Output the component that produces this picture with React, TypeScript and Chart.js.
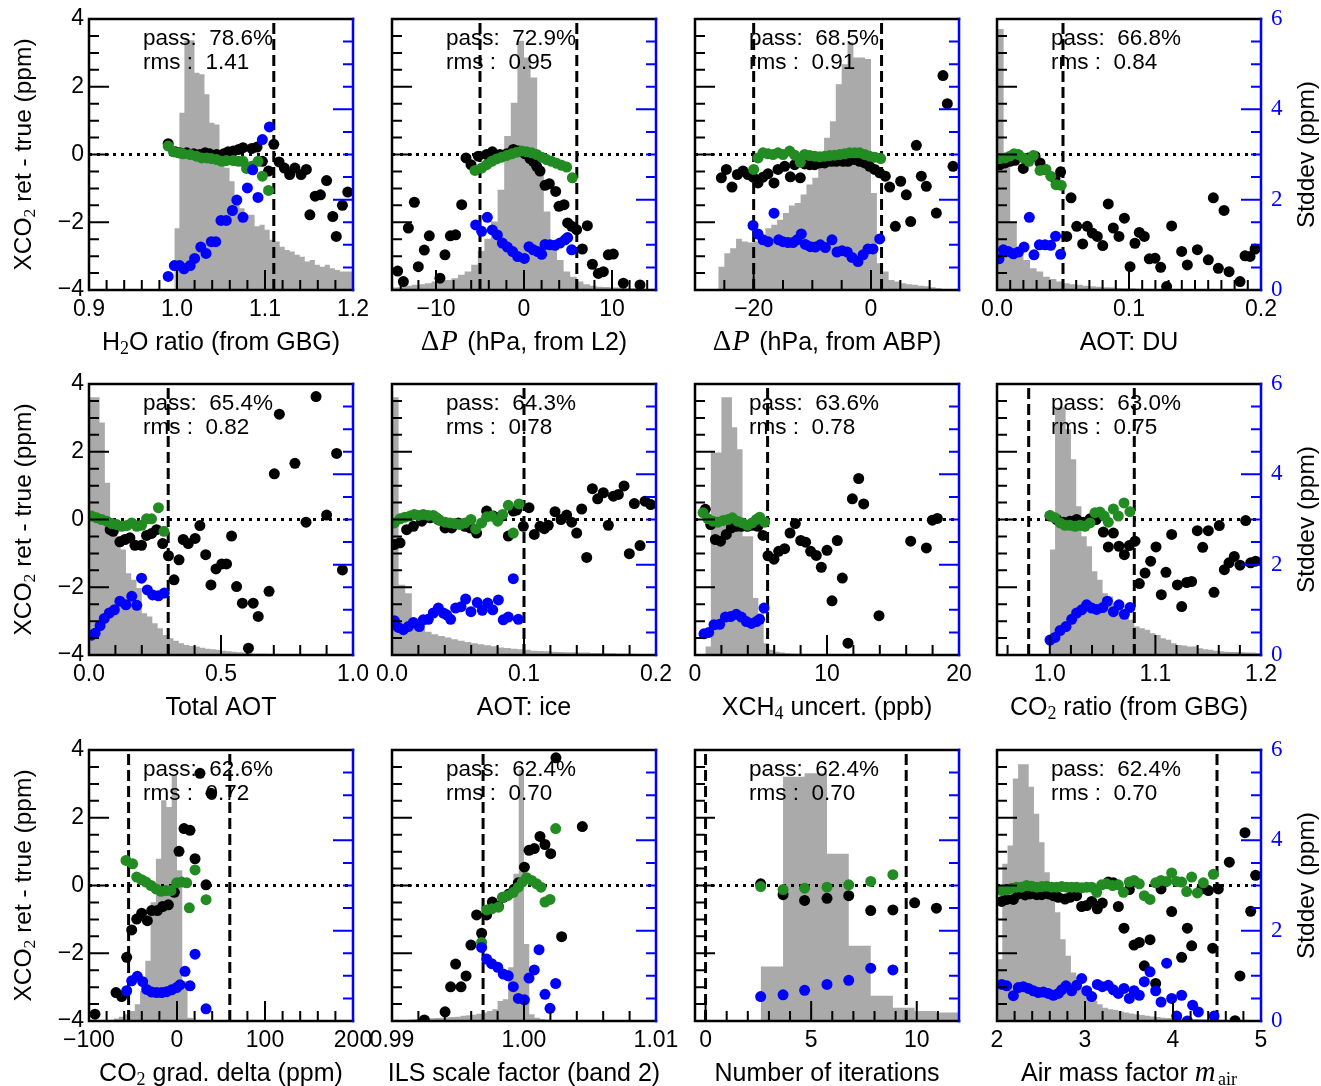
import React, { useEffect, useRef } from "react";
import { Chart, registerables } from "chart.js";
Chart.register(...registerables);

type Pt = [number, number];
type Seg = { t: string; sub?: boolean; it?: boolean; serif?: boolean };

// ---------------- data ----------------
const yLeftTicks = [-4, -2, 0, 2, 4];
const yRightTicks = [0, 2, 4, 6];

// Panel 1: H2O ratio
const p1XTicks = [0.9, 1.0, 1.1, 1.2];
const p1VLines = [1.11];
const p1Black: Pt[] = [[0.990,0.32],[0.998,0.08],[1.003,0.05],[1.011,0.05],[1.019,0.02],[1.026,0.0],[1.032,0.05],[1.037,0.02],[1.045,0.0],[1.053,0.02],[1.058,0.08],[1.064,0.10],[1.070,0.15],[1.075,0.20],[1.085,0.18],[1.091,0.22],[1.097,-0.20],[1.104,-0.49],[1.110,0.30],[1.116,-0.22],[1.122,-0.40],[1.128,-0.59],[1.134,-0.40],[1.141,-0.59],[1.147,-0.44],[1.151,-1.78],[1.157,-1.23],[1.163,-1.19],[1.170,-0.77],[1.177,-1.83],[1.181,-2.42],[1.188,-1.50],[1.194,-1.11]];
const p1Green: Pt[] = [[0.990,0.25],[0.996,0.08],[1.002,0.05],[1.007,0.02],[1.015,0.0],[1.022,-0.05],[1.028,-0.10],[1.034,-0.10],[1.039,-0.12],[1.045,-0.15],[1.051,-0.20],[1.056,-0.18],[1.064,-0.18],[1.070,-0.20],[1.075,-0.20],[1.079,-0.41],[1.085,-0.35],[1.092,-0.20],[1.097,-0.64],[1.104,-1.06]];
const p1Blue: Pt[] = [[0.990,0.30],[0.997,0.54],[1.003,0.54],[1.008,0.47],[1.015,0.54],[1.020,0.70],[1.027,0.95],[1.033,0.81],[1.039,1.07],[1.044,1.07],[1.050,1.54],[1.056,1.54],[1.063,1.76],[1.068,1.99],[1.075,1.61],[1.080,2.26],[1.086,2.66],[1.092,2.05],[1.097,3.33],[1.105,3.61]];
const p1HistStart = 0.997, p1HistWidth = 0.0057;
const p1Hist = [22.8,65.4,92.0,92.2,80.2,79.6,72.2,61.7,61.1,50.0,45.1,40.1,34.6,30.2,27.8,27.8,23.5,24.1,22.2,18.5,17.9,16.0,14.8,14.2,13.0,12.3,10.5,11.1,9.3,8.6,9.3,8.0,7.4,6.8,6.8,6.8];

// Panel 2: dP from L2
const p2XTicks = [-10, 0, 10];
const p2VLines = [-5, 6];
const p2Black: Pt[] = [[-14.36,-3.44],[-13.71,-3.75],[-13.14,-2.17],[-12.46,-1.41],[-12.01,-3.31],[-11.33,-2.82],[-10.76,-2.40],[-9.55,-3.65],[-8.98,-2.96],[-8.37,-2.40],[-7.77,-2.37],[-7.08,-1.48],[-6.59,-0.10],[-6.02,-0.30],[-5.19,-0.05],[-4.24,0.0],[-3.60,0.08],[-2.73,0.0],[-1.97,0.02],[-1.21,0.15],[-0.64,0.10],[0.11,0.02],[0.68,-0.12],[1.06,-0.20],[1.44,-0.35],[1.82,-0.49],[2.39,-0.91],[2.88,-0.86],[3.60,-1.09],[3.98,-1.53],[4.55,-1.48],[4.96,-2.02],[5.42,-2.12],[5.98,-2.22],[6.63,-2.79],[7.20,-2.10],[7.77,-3.24],[8.45,-3.51],[9.02,-3.46],[9.58,-2.96],[10.15,-2.94],[11.29,-3.80],[13.18,-3.85]];
const p2Green: Pt[] = [[-5.57,-0.47],[-4.81,-0.40],[-4.24,-0.30],[-3.67,-0.20],[-3.11,-0.13],[-2.54,-0.08],[-1.97,-0.03],[-1.40,0.02],[-0.83,0.07],[-0.27,0.10],[0.30,0.08],[0.87,0.05],[1.44,0.0],[2.01,-0.08],[2.58,-0.15],[3.14,-0.20],[3.71,-0.26],[4.28,-0.32],[4.85,-0.37],[5.49,-0.69]];
const p2Blue: Pt[] = [[-5.49,1.44],[-4.81,1.30],[-4.17,1.61],[-3.60,1.33],[-3.03,1.22],[-2.46,1.04],[-1.89,0.95],[-1.29,0.85],[-0.72,0.74],[0.04,0.70],[0.57,0.96],[1.06,0.89],[1.55,0.85],[2.01,0.79],[2.39,1.01],[2.95,1.00],[3.52,0.99],[4.09,1.04],[4.66,1.11],[4.96,1.16],[5.42,0.89]];
const p2HistStart = -15, p2HistWidth = 0.75;
const p2Hist = [0.9,1.2,1.6,1.9,2.1,2.5,3.1,3.3,3.7,4.3,5.6,6.8,9.3,14.4,18.9,25.3,37.0,56.8,69.1,92.0,85.8,78.4,45.7,29.0,16.7,11.1,6.8,4.9,3.1,2.1,1.6,1.2,1.1,0.9,0.9,0.7,0.6,0.6,0.5,0.5];

// Panel 3: dP from ABP
const p3XTicks = [-20, 0];
const p3VLines = [-20, 1.8];
const p3Black: Pt[] = [[-25.51,-0.69],[-24.66,-0.44],[-23.69,-0.96],[-22.78,-0.59],[-21.82,-0.49],[-20.97,-0.59],[-20.11,-0.67],[-19.26,-0.84],[-18.41,-0.67],[-17.56,-0.57],[-16.53,-0.84],[-15.85,-0.44],[-14.72,-0.35],[-13.75,-0.66],[-13.01,-0.30],[-12.05,-0.69],[-11.31,-0.28],[-10.45,-0.30],[-9.60,-0.30],[-8.75,-0.25],[-7.90,-0.25],[-6.76,-0.20],[-5.91,-0.20],[-4.77,-0.20],[-3.92,-0.20],[-2.78,-0.15],[-1.93,-0.20],[-1.08,-0.25],[-0.23,-0.35],[0.63,-0.44],[1.48,-0.54],[2.44,-0.64],[3.18,-0.96],[4.15,-2.12],[5.06,-0.79],[6.02,-1.19],[6.76,-1.98],[7.73,0.27],[8.58,-0.64],[9.43,-0.94],[11.14,-1.73],[12.27,2.33],[13.01,1.50],[13.98,-0.35]];
const p3Green: Pt[] = [[-20.0,-0.44],[-19.26,-0.10],[-18.41,0.05],[-17.56,0.02],[-16.70,0.0],[-15.85,0.05],[-15.0,0.0],[-13.86,0.10],[-13.01,-0.02],[-12.05,-0.23],[-11.31,0.0],[-10.45,-0.03],[-9.60,-0.05],[-8.75,-0.07],[-7.90,-0.05],[-7.05,-0.03],[-6.19,-0.02],[-5.34,0.0],[-4.49,0.02],[-3.64,0.05],[-2.78,0.05],[-1.93,0.05],[-1.08,0.0],[-0.23,-0.05],[0.63,-0.08],[1.65,-0.12]];
const p3Blue: Pt[] = [[-20.11,1.43],[-19.26,1.24],[-18.41,1.11],[-17.56,1.07],[-16.53,1.70],[-15.74,1.11],[-15.0,1.07],[-14.15,1.05],[-13.30,1.05],[-12.61,1.11],[-11.88,1.24],[-11.19,1.01],[-10.34,0.96],[-9.49,0.95],[-8.64,1.00],[-7.78,0.94],[-6.65,1.11],[-5.80,0.84],[-4.94,0.87],[-4.03,0.84],[-3.24,0.72],[-2.22,0.63],[-1.36,0.78],[-0.51,0.91],[0.34,0.91],[1.48,1.13]];
const p3HistStart = -30, p3HistWidth = 1;
const p3Hist = [0,0,0,0,8.6,13.6,15.4,18.9,17.9,17.5,17.9,20.4,22.8,24.1,25.9,28.4,31.2,32.1,35.2,38.9,41.4,46.9,56.2,62.3,75.9,83.3,91.4,85.8,85.8,85.2,35.8,9.9,6.8,3.7,3.1,2.5,2.1,1.9,1.6,1.4,1.0,0.6,0.4,0.2,0.1];

// Panel 4: AOT DU
const p4XTicks = [0.0, 0.1, 0.2];
const p4VLines = [0.05];
const p4Black: Pt[] = [[0.0023,-0.30],[0.0061,-0.25],[0.0098,-0.20],[0.0136,-0.17],[0.0199,-0.41],[0.0237,-0.10],[0.0288,-0.05],[0.0326,-0.25],[0.0364,-0.44],[0.0439,-0.71],[0.0482,-0.51],[0.0528,-2.42],[0.0561,-1.28],[0.0604,-2.12],[0.0649,-2.64],[0.0684,-2.12],[0.0722,-2.32],[0.0760,-2.42],[0.0801,-2.69],[0.0843,-1.46],[0.0881,-2.17],[0.0924,-2.42],[0.0965,-1.88],[0.1008,-3.31],[0.1045,-2.62],[0.1078,-2.30],[0.1116,-2.42],[0.1154,-3.08],[0.1197,-3.06],[0.1240,-3.33],[0.1285,-3.90],[0.1323,-2.11],[0.1399,-2.86],[0.1442,-3.26],[0.1518,-2.81],[0.1601,-3.11],[0.1639,-1.28],[0.1677,-3.36],[0.1720,-1.65],[0.1758,-3.46],[0.1841,-3.75],[0.1879,-2.99],[0.1917,-3.01],[0.1955,-2.79]];
const p4Green: Pt[] = [[0.0023,-0.12],[0.0061,-0.10],[0.0098,-0.05],[0.0129,0.02],[0.0162,0.0],[0.0199,-0.10],[0.0242,-0.20],[0.0275,-0.03],[0.0326,-0.47],[0.0371,-0.44],[0.0407,-0.64],[0.0447,-0.89],[0.0487,-0.91]];
const p4Blue: Pt[] = [[0.0015,0.69],[0.0048,0.89],[0.0086,0.85],[0.0124,0.80],[0.0162,0.84],[0.0205,0.95],[0.0245,1.61],[0.0280,0.78],[0.0321,1.00],[0.0364,1.00],[0.0407,0.99],[0.0444,1.19],[0.0482,0.79]];
const p4HistStart = 0, p4HistWidth = 0.005;
const p4Hist = [96.3,45.7,24.7,15.4,11.1,8.0,6.8,4.9,4.1,3.1,2.5,2.1,1.9,1.6,1.4,1.2,1.0,0.9,0.7,0.6,0.6,0.5,0.5,0.5,0.4,0.4,0.4,0.4,0.2,0.2,0.2,0.2,0.2,0.1,0.1,0.1,0.1,0.1,0.1,0.1];

// Panel 5: Total AOT
const p5XTicks = [0.0, 0.5, 1.0];
const p5VLines = [0.3];
const p5Black: Pt[] = [[0.080,-0.30],[0.092,-0.35],[0.117,-0.66],[0.136,-0.59],[0.155,-0.54],[0.174,-0.76],[0.199,-0.76],[0.218,-0.47],[0.237,-0.41],[0.256,-0.30],[0.279,-0.71],[0.301,-1.07],[0.322,-1.78],[0.341,-1.19],[0.357,-0.59],[0.376,-0.71],[0.402,-0.56],[0.420,-0.18],[0.442,-1.04],[0.462,-1.93],[0.481,-1.46],[0.503,-1.31],[0.521,-1.31],[0.540,-0.49],[0.559,-1.98],[0.581,-2.47],[0.604,-3.80],[0.622,-2.47],[0.641,-2.86],[0.682,-2.12],[0.702,1.35],[0.721,3.11],[0.780,1.66],[0.822,-0.08],[0.860,3.63],[0.900,0.13],[0.938,1.95],[0.960,-1.49]];
const p5Green: Pt[] = [[0.010,0.10],[0.029,0.05],[0.048,0.0],[0.067,-0.05],[0.086,-0.12],[0.105,-0.15],[0.124,-0.20],[0.143,-0.18],[0.162,-0.10],[0.181,-0.20],[0.199,-0.17],[0.218,0.02],[0.237,0.02],[0.263,0.35],[0.284,-0.35]];
const p5Blue: Pt[] = [[0.010,0.44],[0.023,0.48],[0.042,0.65],[0.058,0.81],[0.077,0.93],[0.096,1.00],[0.117,1.19],[0.140,1.11],[0.162,1.30],[0.181,1.10],[0.199,1.70],[0.221,1.44],[0.241,1.33],[0.263,1.31],[0.285,1.37]];
const p5HistStart = 0, p5HistWidth = 0.02;
const p5Hist = [95.1,95.1,85.8,63.6,45.7,43.8,38.9,30.2,27.8,24.7,15.4,14.2,11.7,9.9,7.4,6.2,5.3,4.3,3.7,3.3,3.1,2.7,2.3,2.1,1.9,1.6,1.4,1.2,1.0,0.9,0.6,0.5,0.5,0.5,0.4,0.4,0.4,0.4,0.2,0.2,0.2,0.2,0.2,0.1,0.1,0.1,0.1,0.1,0.1,0.1];

// Panel 6: AOT ice
const p6XTicks = [0.0, 0.1, 0.2];
const p6VLines = [0.1];
const p6Black: Pt[] = [[0.0018,-0.74],[0.0061,-0.69],[0.0111,-0.30],[0.0162,-0.20],[0.0225,-0.05],[0.0288,0.05],[0.0351,0.0],[0.0402,-0.25],[0.0452,-0.25],[0.0503,-0.10],[0.0553,-0.20],[0.0591,-0.25],[0.0641,-0.40],[0.0717,0.25],[0.0768,0.10],[0.0831,0.10],[0.0881,-0.49],[0.0919,0.25],[0.0944,0.28],[0.0995,-0.20],[0.1038,0.35],[0.1078,-0.44],[0.1121,-0.20],[0.1154,-0.27],[0.1184,-0.17],[0.1235,0.23],[0.1280,0.0],[0.1323,0.13],[0.1361,-0.08],[0.1399,-0.40],[0.1437,0.31],[0.1475,-1.12],[0.1518,0.91],[0.1558,0.61],[0.1601,0.79],[0.1639,-0.17],[0.1677,0.69],[0.1715,0.74],[0.1758,0.99],[0.1798,-1.01],[0.1836,0.47],[0.1879,-0.77],[0.1917,0.54],[0.1960,0.44]];
const p6Green: Pt[] = [[0.0018,-0.10],[0.0061,0.02],[0.0098,0.07],[0.0136,0.10],[0.0169,0.15],[0.0199,0.12],[0.0237,0.15],[0.0275,0.12],[0.0313,0.12],[0.0338,0.05],[0.0364,-0.03],[0.0402,-0.08],[0.0439,-0.10],[0.0477,-0.12],[0.0515,-0.15],[0.0553,-0.10],[0.0598,0.0],[0.0634,-0.28],[0.0679,-0.10],[0.0717,0.08],[0.0755,0.10],[0.0801,-0.05],[0.0838,0.15],[0.0881,0.42],[0.0919,-0.40],[0.0962,0.46]];
const p6Blue: Pt[] = [[0.0018,0.76],[0.0048,0.61],[0.0086,0.56],[0.0124,0.63],[0.0162,0.72],[0.0207,0.63],[0.0237,0.78],[0.0275,0.79],[0.0313,0.93],[0.0351,1.04],[0.0389,0.93],[0.0414,0.89],[0.0444,0.79],[0.0482,1.04],[0.0523,1.07],[0.0558,1.24],[0.0598,0.96],[0.0646,1.16],[0.0684,0.99],[0.0725,1.15],[0.0763,1.00],[0.0806,1.22],[0.0843,0.78],[0.0881,0.84],[0.0919,1.69],[0.0957,0.79]];
const p6HistStart = 0, p6HistWidth = 0.005;
const p6Hist = [95.1,25.9,22.8,11.1,9.9,8.6,7.7,7.0,6.5,5.8,5.3,4.8,4.3,4.0,3.6,3.2,2.8,2.6,2.3,2.1,1.9,1.6,1.5,1.4,1.2,1.1,1.0,1.0,0.9,0.9,0.7,0.7,0.6,0.6,0.5,0.5,0.5,0.4,0.4,0.4];

// Panel 7: XCH4 uncert
const p7XTicks = [0, 10, 20];
const p7VLines = [5.5];
const p7Black: Pt[] = [[0.78,0.30],[1.19,-0.15],[1.54,-0.59],[1.94,-0.64],[2.37,-0.44],[2.75,-0.25],[3.13,-0.20],[3.51,-0.20],[3.96,-0.20],[4.39,-0.17],[4.77,-0.20],[5.15,-0.47],[5.53,-1.07],[5.98,-1.17],[6.34,-0.94],[6.79,-0.86],[7.20,-0.40],[7.60,-0.12],[8.01,-0.62],[8.38,-0.67],[8.76,-0.94],[9.19,-1.06],[9.57,-1.41],[10.0,-0.91],[10.38,-2.40],[10.78,-0.62],[11.16,-1.73],[11.59,-3.65],[11.92,0.61],[12.40,1.21],[12.78,0.46],[13.94,-2.84],[16.34,-0.64],[17.53,-0.84],[17.98,-0.02],[18.36,0.03]];
const p7Green: Pt[] = [[0.61,0.20],[0.98,0.02],[1.36,-0.05],[1.74,-0.08],[2.12,-0.03],[2.50,0.0],[2.83,0.05],[3.21,-0.05],[3.59,-0.10],[3.96,-0.17],[4.32,-0.10],[4.65,0.0],[4.90,0.07],[5.28,-0.08]];
const p7Blue: Pt[] = [[0.68,0.47],[1.04,0.50],[1.44,0.67],[1.87,0.68],[2.30,0.84],[2.70,0.85],[3.13,0.90],[3.51,0.84],[3.89,0.74],[4.27,0.70],[4.65,0.74],[4.90,0.79],[5.23,1.04]];
const p7HistStart = 0, p7HistWidth = 0.4;
const p7Hist = [0,0,3.1,74.7,74.7,95.1,95.1,84.0,75.9,43.8,43.8,21.0,15.4,4.3,1.9,1.2,0.9,0.6,0.5,0.5,0.4,0.4,0.4,0.2,0.2,0.2,0.2,0.2,0.2,0.2,0.2,0.2,0.1,0.1,0.1,0.1,0.1,0.1,0.1,0.1,0.1,0.1,0.1,0.1,0.1,0.1,0.1,0.1,0.1,0.1];

// Panel 8: CO2 ratio
const p8XTicks = [1.0, 1.1, 1.2];
const p8VLines = [0.98, 1.08];
const p8Black: Pt[] = [[1.0002,0.10],[1.0065,0.0],[1.0128,-0.08],[1.0191,-0.05],[1.0254,0.0],[1.0318,-0.08],[1.0381,0.02],[1.0438,0.0],[1.0507,-0.37],[1.0554,-0.81],[1.0602,-0.40],[1.0655,-0.79],[1.0706,-1.04],[1.0753,-0.77],[1.0807,-0.64],[1.0848,-1.89],[1.0902,-1.58],[1.0955,-1.23],[1.1006,-0.81],[1.1056,-2.22],[1.1100,-1.56],[1.1154,-0.44],[1.1208,-1.93],[1.1249,-2.57],[1.1296,-1.86],[1.1343,-1.83],[1.1397,-0.33],[1.1448,-0.82],[1.1501,-0.33],[1.1555,-2.15],[1.1605,-0.18],[1.1653,-1.48],[1.1697,-1.28],[1.1747,-1.09],[1.1801,-1.35],[1.1855,-0.03],[1.1902,-1.28],[1.1949,-1.23]];
const p8Green: Pt[] = [[1.0002,0.12],[1.0049,0.05],[1.0097,-0.10],[1.0144,-0.17],[1.0191,-0.17],[1.0239,-0.20],[1.0286,-0.17],[1.0333,-0.20],[1.0381,-0.10],[1.0428,0.20],[1.0475,0.22],[1.0516,0.10],[1.0554,-0.08],[1.0602,0.31],[1.0649,0.10],[1.0703,0.49],[1.0759,0.23]];
const p8Blue: Pt[] = [[1.0002,0.33],[1.0049,0.39],[1.0097,0.54],[1.0153,0.63],[1.0207,0.79],[1.0254,0.93],[1.0302,1.00],[1.0349,1.11],[1.0396,1.04],[1.0444,1.01],[1.0501,1.05],[1.0545,1.19],[1.0602,0.96],[1.0655,1.11],[1.0706,0.90],[1.0759,1.05]];
const p8HistStart = 1.0, p8HistWidth = 0.005;
const p8Hist = [38.9,91.4,91.4,83.3,72.2,54.9,43.8,40.1,30.9,27.8,22.8,21.6,19.1,16.7,14.8,13.0,10.5,9.9,9.3,8.0,7.4,6.2,5.6,4.3,3.7,3.5,3.1,3.1,2.5,2.1,1.9,1.6,1.4,1.2,1.1,1.1,1.0,0.9,0.9,0.7];

// Panel 9: CO2 grad delta
const p9XTicks = [-100, 0, 100, 200];
const p9VLines = [-55, 60];
const p9Black: Pt[] = [[-93.2,-3.80],[-69.3,-3.16],[-62.9,-3.28],[-57.2,-2.12],[-51.5,-1.31],[-45.8,-0.99],[-40.2,-0.82],[-33.7,-1.04],[-28.8,-0.74],[-22.3,-0.74],[-16.3,-0.62],[-9.8,-0.57],[-3.0,-0.20],[2.3,1.01],[8.0,1.68],[14.8,1.63],[20.5,0.79],[26.1,3.31],[33.0,0.02],[38.6,2.72]];
const p9Green: Pt[] = [[-58.0,0.74],[-50.4,0.64],[-45.8,0.25],[-40.2,0.17],[-35.2,0.10],[-29.5,0.0],[-23.9,-0.10],[-18.2,-0.17],[-12.5,-0.15],[-6.8,-0.15],[-0.4,0.08],[5.3,0.10],[11.0,0.08],[14.0,-0.66],[20.5,0.46],[33.0,-0.42]];
const p9Blue: Pt[] = [[-57.2,0.67],[-51.5,0.89],[-45.1,0.99],[-39.0,0.87],[-34.5,0.70],[-28.8,0.64],[-23.1,0.63],[-17.4,0.63],[-11.7,0.65],[-6.1,0.69],[-0.4,0.74],[3.4,0.80],[9.1,1.10],[14.8,0.78],[20.5,1.48],[33.0,0.27]];
const p9HistStart = -72, p9HistWidth = 6;
const p9Hist = [0.9,1.6,2.5,3.7,6.2,11.1,22.2,43.8,59.9,81.5,79.0,90.7,55.6,14.8,1.2,0.4];

// Panel 10: ILS scale factor
const p10XTicks = [0.99, 1.0, 1.01];
const p10VLines = [0.9969];
const p10Black: Pt[] = [[0.99245,-3.97],[0.99402,-3.73],[0.99444,-2.99],[0.99482,-2.32],[0.99523,-2.99],[0.99561,-2.67],[0.99598,-1.76],[0.99641,-0.87],[0.99679,-1.41],[0.99717,-0.87],[0.99760,-0.49],[0.99806,-0.62],[0.99843,-0.35],[0.99886,-0.25],[0.99927,-0.10],[0.99957,0.08],[1.00003,0.54],[1.00038,1.04],[1.00078,1.09],[1.00121,1.45],[1.00159,1.21],[1.00202,0.94],[1.00242,3.77],[1.00285,-1.51],[1.00442,1.74]];
const p10Green: Pt[] = [[0.99679,-1.68],[0.99717,-0.72],[0.99755,-0.69],[0.99806,-0.64],[0.99836,-0.35],[0.99876,-0.30],[0.99919,-0.20],[0.99957,-0.05],[0.99987,0.10],[1.00020,0.23],[1.00058,0.15],[1.00096,0.05],[1.00129,-0.05],[1.00159,-0.49],[1.00197,-0.41],[1.00240,1.68]];
const p10Blue: Pt[] = [[0.99679,1.63],[0.99717,1.37],[0.99755,1.27],[0.99801,1.19],[0.99843,1.04],[0.99881,1.00],[0.99919,0.76],[0.99957,0.50],[1.00003,0.47],[1.00038,0.95],[1.00078,1.13],[1.00114,1.58],[1.00159,0.59],[1.00197,0.28],[1.00240,0.83]];
const p10HistStart = 0.99, p10HistWidth = 0.0004;
const p10Hist = [0.2,0.4,0.4,0.5,0.6,0.7,0.9,1.0,1.1,1.2,1.4,1.5,1.6,1.9,2.1,2.3,2.7,3.1,3.7,4.3,7.4,8.0,19.8,54.3,92.6,28.4,2.5,1.2,0.7,0.5,0.4,0.4,0.4,0.2,0.2,0.2,0.2,0.2,0.1,0.1,0.1,0.1,0.1,0.1,0.1,0.1,0.1,0.1,0.1,0.1];

// Panel 11: number of iterations
const p11XTicks = [0, 5, 10];
const p11VLines = [0, 9.5];
const p11Black: Pt[] = [[2.61,0.05],[3.67,-0.27],[4.69,-0.44],[5.75,-0.38],[6.78,-0.30],[7.82,-0.74],[8.87,-0.72],[9.90,-0.51],[10.93,-0.67]];
const p11Green: Pt[] = [[2.61,-0.03],[3.67,-0.12],[4.69,-0.08],[5.75,-0.05],[6.78,0.02],[7.82,0.12],[8.87,0.32]];
const p11Blue: Pt[] = [[2.61,0.54],[3.67,0.58],[4.69,0.68],[5.75,0.81],[6.78,0.90],[7.82,1.17],[8.87,1.13]];
const p11HistEdges = [2.61, 3.67, 4.69, 5.75, 6.78, 7.82, 8.87, 9.90, 10.93, 11.93, 12.96];
const p11Hist = [20.1, 90.1, 91.4, 61.7, 27.8, 9.3, 4.9, 3.7, 3.1, 3.1];

// Panel 12: air mass factor
const p12XTicks = [2, 3, 4, 5];
const p12VLines = [4.5];
const p12Black: Pt[] = [[2.053,-0.47],[2.110,-0.41],[2.186,-0.41],[2.242,-0.25],[2.318,-0.28],[2.375,-0.25],[2.451,-0.27],[2.508,-0.27],[2.583,-0.25],[2.640,-0.30],[2.697,-0.35],[2.773,-0.40],[2.830,-0.35],[2.905,-0.30],[2.962,-0.62],[3.019,-0.59],[3.076,-0.47],[3.140,-0.69],[3.197,-0.52],[3.265,0.10],[3.322,0.08],[3.379,-0.62],[3.443,-1.26],[3.504,-0.12],[3.557,-1.76],[3.617,-1.68],[3.674,-2.37],[3.739,-1.60],[3.803,-2.89],[3.864,-0.10],[3.985,-0.77],[4.098,-2.12],[4.163,-1.26],[4.212,-1.78],[4.326,-0.10],[4.402,-0.15],[4.451,-1.85],[4.515,-0.10],[4.640,0.69],[4.705,-3.99],[4.761,-2.67],[4.818,1.56],[4.883,-0.76],[4.939,0.30]];
const p12Green: Pt[] = [[2.053,-0.15],[2.110,-0.13],[2.167,-0.08],[2.223,-0.05],[2.280,-0.05],[2.337,0.0],[2.394,-0.02],[2.451,-0.05],[2.508,-0.03],[2.564,-0.02],[2.621,-0.05],[2.678,-0.05],[2.735,-0.03],[2.792,-0.05],[2.848,-0.05],[2.905,-0.05],[2.962,-0.07],[3.019,-0.05],[3.076,-0.05],[3.133,-0.20],[3.189,0.02],[3.246,0.05],[3.314,0.0],[3.379,0.02],[3.436,-0.20],[3.504,0.10],[3.557,0.15],[3.617,0.05],[3.674,-0.30],[3.739,-0.41],[3.803,0.08],[3.864,0.15],[3.928,0.12],[3.985,0.37],[4.042,0.12],[4.098,0.10],[4.155,-0.18],[4.212,0.25],[4.277,-0.22],[4.345,0.08],[4.458,0.33]];
const p12Blue: Pt[] = [[2.053,0.81],[2.110,0.78],[2.186,0.56],[2.242,0.74],[2.299,0.76],[2.356,0.72],[2.413,0.67],[2.470,0.63],[2.527,0.64],[2.583,0.61],[2.640,0.57],[2.697,0.61],[2.735,0.69],[2.784,0.78],[2.848,0.67],[2.905,0.79],[2.962,0.94],[3.019,0.67],[3.076,0.54],[3.140,0.81],[3.197,0.76],[3.265,0.79],[3.322,0.69],[3.379,0.61],[3.443,0.72],[3.504,0.50],[3.557,0.67],[3.617,0.57],[3.674,0.87],[3.739,1.09],[3.803,0.67],[3.864,0.42],[3.928,1.28],[3.985,0.50],[4.042,0.11],[4.098,0.57],[4.163,0.0],[4.223,0.35],[4.288,0.20],[4.466,0.11]];
const p12HistStart = 2, p12HistWidth = 0.06;
const p12Hist = [22.8,58.0,64.8,89.5,94.7,94.7,86.4,76.5,66.0,54.9,48.8,40.1,30.2,24.1,17.9,13.0,10.5,8.0,7.4,6.2,4.9,4.3,4.1,3.5,3.1,2.8,2.5,2.2,1.9,1.7,1.5,1.2,1.1,1.0,0.9,0.9,0.7,0.7,0.6,0.6,0.5,0.5,0.5,0.4,0.4,0.4,0.4,0.2,0.2,0.2];

const passValues = ["78.6", "72.9", "68.5", "66.8", "65.4", "64.3", "63.6", "63.0", "62.6", "62.4", "62.4", "62.4"];
const rmsValues = ["1.41", "0.95", "0.91", "0.84", "0.82", "0.78", "0.78", "0.75", "0.72", "0.70", "0.70", "0.70"];

// ---------------- layout / style ----------------
const COL_LEFT = [89, 392, 695, 997];
const ROW_TOP = [19, 384, 750];
const PW = 264, PH = 271;
const ML = 80, MR = 80, MT = 15, MB = 75;
const CW = PW + ML + MR, CH = PH + MT + MB;
const SANS = '"Liberation Sans"';
const SERIF = '"Liberation Serif"';
const TICK_SIZE = 23;
const TITLE_SIZE = 25;
const ANN_SIZE = 22.5;
const POINT_R = 5.5;
const GREEN = "#228b22";
const BLUE = "#0000ff";
const HIST_COLOR = "#aaaaaa";

function uniformEdges(start: number, width: number, n: number) {
  const e: number[] = [];
  for (let i = 0; i <= n; i++) e.push(start + i * width);
  return e;
}

interface Panel {
  xMin: number; xMax: number; xTicks: number[]; xMinor: number; xDec: number;
  vlines: number[]; black: Pt[]; green: Pt[]; blue: Pt[];
  histEdges: number[]; hist: number[]; title: Seg[];
}

const PANELS: Panel[] = [
  { xMin: 0.9, xMax: 1.2, xTicks: p1XTicks, xMinor: 0.02, xDec: 1, vlines: p1VLines, black: p1Black, green: p1Green, blue: p1Blue,
    histEdges: uniformEdges(p1HistStart, p1HistWidth, p1Hist.length), hist: p1Hist,
    title: [{ t: "H" }, { t: "2", sub: true, serif: true }, { t: "O ratio (from GBG)" }] },
  { xMin: -15, xMax: 15, xTicks: p2XTicks, xMinor: 2, xDec: 0, vlines: p2VLines, black: p2Black, green: p2Green, blue: p2Blue,
    histEdges: uniformEdges(p2HistStart, p2HistWidth, p2Hist.length), hist: p2Hist,
    title: [{ t: "\u0394", serif: true }, { t: "P", it: true }, { t: " (hPa, from L2)" }] },
  { xMin: -30, xMax: 15, xTicks: p3XTicks, xMinor: 5, xDec: 0, vlines: p3VLines, black: p3Black, green: p3Green, blue: p3Blue,
    histEdges: uniformEdges(p3HistStart, p3HistWidth, p3Hist.length), hist: p3Hist,
    title: [{ t: "\u0394", serif: true }, { t: "P", it: true }, { t: " (hPa, from ABP)" }] },
  { xMin: 0, xMax: 0.2, xTicks: p4XTicks, xMinor: 0.01, xDec: 1, vlines: p4VLines, black: p4Black, green: p4Green, blue: p4Blue,
    histEdges: uniformEdges(p4HistStart, p4HistWidth, p4Hist.length), hist: p4Hist,
    title: [{ t: "AOT: DU" }] },
  { xMin: 0, xMax: 1, xTicks: p5XTicks, xMinor: 0.1, xDec: 1, vlines: p5VLines, black: p5Black, green: p5Green, blue: p5Blue,
    histEdges: uniformEdges(p5HistStart, p5HistWidth, p5Hist.length), hist: p5Hist,
    title: [{ t: "Total AOT" }] },
  { xMin: 0, xMax: 0.2, xTicks: p6XTicks, xMinor: 0.02, xDec: 1, vlines: p6VLines, black: p6Black, green: p6Green, blue: p6Blue,
    histEdges: uniformEdges(p6HistStart, p6HistWidth, p6Hist.length), hist: p6Hist,
    title: [{ t: "AOT: ice" }] },
  { xMin: 0, xMax: 20, xTicks: p7XTicks, xMinor: 2, xDec: 0, vlines: p7VLines, black: p7Black, green: p7Green, blue: p7Blue,
    histEdges: uniformEdges(p7HistStart, p7HistWidth, p7Hist.length), hist: p7Hist,
    title: [{ t: "XCH" }, { t: "4", sub: true, serif: true }, { t: " uncert. (ppb)" }] },
  { xMin: 0.95, xMax: 1.2, xTicks: p8XTicks, xMinor: 0.02, xDec: 1, vlines: p8VLines, black: p8Black, green: p8Green, blue: p8Blue,
    histEdges: uniformEdges(p8HistStart, p8HistWidth, p8Hist.length), hist: p8Hist,
    title: [{ t: "CO" }, { t: "2", sub: true, serif: true }, { t: " ratio (from GBG)" }] },
  { xMin: -100, xMax: 200, xTicks: p9XTicks, xMinor: 20, xDec: 0, vlines: p9VLines, black: p9Black, green: p9Green, blue: p9Blue,
    histEdges: uniformEdges(p9HistStart, p9HistWidth, p9Hist.length), hist: p9Hist,
    title: [{ t: "CO" }, { t: "2", sub: true, serif: true }, { t: " grad. delta (ppm)" }] },
  { xMin: 0.99, xMax: 1.01, xTicks: p10XTicks, xMinor: 0.002, xDec: 2, vlines: p10VLines, black: p10Black, green: p10Green, blue: p10Blue,
    histEdges: uniformEdges(p10HistStart, p10HistWidth, p10Hist.length), hist: p10Hist,
    title: [{ t: "ILS scale factor (band 2)" }] },
  { xMin: -0.5, xMax: 12, xTicks: p11XTicks, xMinor: 1, xDec: 0, vlines: p11VLines, black: p11Black, green: p11Green, blue: p11Blue,
    histEdges: p11HistEdges, hist: p11Hist,
    title: [{ t: "Number of iterations" }] },
  { xMin: 2, xMax: 5, xTicks: p12XTicks, xMinor: 0.2, xDec: 0, vlines: p12VLines, black: p12Black, green: p12Green, blue: p12Blue,
    histEdges: uniformEdges(p12HistStart, p12HistWidth, p12Hist.length), hist: p12Hist,
    title: [{ t: "Air mass factor " }, { t: "m", it: true }, { t: "air", sub: true, serif: true }] },
];

const Y_TITLE: Seg[] = [{ t: "XCO" }, { t: "2", sub: true, serif: true }, { t: " ret - true (ppm)" }];
const Y2_TITLE: Seg[] = [{ t: "Stddev (ppm)" }];

function fmt(v: number, dec: number) {
  const s = Math.abs(v).toFixed(dec);
  return (v < -1e-12 ? "\u2212" : "") + s;
}

function segFont(s: Seg, size: number) {
  const math = s.serif || s.it;
  const base = math && !s.sub ? size * 1.15 : size;
  const sz = s.sub ? size * 0.72 : base;
  const fam = math ? SERIF : SANS;
  return `${s.it ? "italic " : ""}${sz}px ${fam}`;
}

function segExtra(s: Seg, size: number) {
  if (s.it) return size * 0.1;
  if (s.serif && !s.sub) return size * 0.04;
  return 0;
}

function drawRich(ctx: CanvasRenderingContext2D, segs: Seg[], x: number, y: number, size: number, align: "center" | "left") {
  let w = 0;
  for (const s of segs) { ctx.font = segFont(s, size); w += ctx.measureText(s.t).width + segExtra(s, size); }
  let cx = align === "center" ? x - w / 2 : x;
  ctx.textAlign = "left";
  ctx.textBaseline = "alphabetic";
  for (const s of segs) {
    ctx.font = segFont(s, size);
    ctx.fillText(s.t, cx, y + (s.sub ? size * 0.17 : 0));
    cx += ctx.measureText(s.t).width + segExtra(s, size);
  }
}

function tickValues(min: number, max: number, step: number) {
  const out: number[] = [];
  const k0 = Math.ceil(min / step - 1e-6), k1 = Math.floor(max / step + 1e-6);
  for (let k = k0; k <= k1; k++) out.push(k * step);
  return out;
}

function PanelChart({ p, idx }: { p: Panel; idx: number }) {
  const ref = useRef<HTMLCanvasElement>(null);
  const row = Math.floor(idx / 4), col = idx % 4;
  const left = COL_LEFT[col] - ML, top = ROW_TOP[row] - MT;

  useEffect(() => {
    if (!ref.current) return;
    const histData = p.hist.map((h, i) => ({ x: p.histEdges[i], y: h }));
    histData.push({ x: p.histEdges[p.hist.length], y: p.hist[p.hist.length - 1] });

    const overlay = {
      id: "overlay" + idx,
      afterDraw(chart: any) {
        const ctx: CanvasRenderingContext2D = chart.ctx;
        const { left: l, right: r, top: t, bottom: b } = chart.chartArea;
        const xs = chart.scales.x, ys = chart.scales.y, y2 = chart.scales.y2;
        ctx.save();
        const isIn = (v: number, arr: number[]) => arr.some((a) => Math.abs(a - v) < 1e-7 * Math.max(1, Math.abs(a)));
        // inward tick marks
        ctx.lineWidth = 2;
        ctx.strokeStyle = "#000";
        ctx.beginPath();
        for (const v of tickValues(p.xMin, p.xMax, p.xMinor)) {
          const px = xs.getPixelForValue(v);
          const len = isIn(v, p.xTicks) ? 20 : 10;
          ctx.moveTo(px, b); ctx.lineTo(px, b - len);
        }
        for (const v of tickValues(-4, 4, 0.5)) {
          const py = ys.getPixelForValue(v);
          const len = isIn(v, yLeftTicks) ? 20 : 10;
          ctx.moveTo(l, py); ctx.lineTo(l + len, py);
        }
        ctx.stroke();
        ctx.strokeStyle = BLUE;
        ctx.beginPath();
        for (const v of tickValues(0, 6, 0.5)) {
          const py = y2.getPixelForValue(v);
          const len = isIn(v, yRightTicks) ? 20 : 10;
          ctx.moveTo(r, py); ctx.lineTo(r - len, py);
        }
        ctx.stroke();
        // spines
        ctx.lineWidth = 2.5;
        ctx.lineCap = "square";
        ctx.strokeStyle = "#000";
        ctx.beginPath();
        ctx.moveTo(r, t); ctx.lineTo(l, t); ctx.lineTo(l, b); ctx.lineTo(r, b);
        ctx.stroke();
        ctx.strokeStyle = BLUE;
        ctx.beginPath();
        ctx.moveTo(r, t); ctx.lineTo(r, b);
        ctx.stroke();
        // tick labels
        ctx.fillStyle = "#000";
        ctx.font = `${TICK_SIZE}px ${SANS}`;
        ctx.textBaseline = "middle";
        ctx.textAlign = "center";
        for (const v of p.xTicks) ctx.fillText(fmt(v, p.xDec), xs.getPixelForValue(v), b + 20);
        if (col === 0) {
          ctx.textAlign = "right";
          for (const v of yLeftTicks) ctx.fillText(fmt(v, 0), l - 5, ys.getPixelForValue(v));
        }
        if (col === 3) {
          ctx.fillStyle = BLUE;
          ctx.font = `${TICK_SIZE}px ${SERIF}`;
          ctx.textAlign = "left";
          for (const v of yRightTicks) ctx.fillText(fmt(v, 0), r + 10, y2.getPixelForValue(v));
          ctx.fillStyle = "#000";
        }
        // annotation
        ctx.font = `${ANN_SIZE}px ${SANS}`;
        ctx.textAlign = "left";
        ctx.textBaseline = "alphabetic";
        ctx.fillText(`pass:  ${passValues[idx]}%`, l + 54, t + 26);
        ctx.fillText(`rms :  ${rmsValues[idx]}`, l + 54, t + 50);
        // axis titles
        drawRich(ctx, p.title, (l + r) / 2, b + 60, TITLE_SIZE, "center");
        if (col === 0) {
          ctx.save();
          ctx.translate(l - 67, (t + b) / 2);
          ctx.rotate(-Math.PI / 2);
          drawRich(ctx, Y_TITLE, 0, 8.5, TITLE_SIZE * 0.98, "center");
          ctx.restore();
        }
        if (col === 3) {
          ctx.save();
          ctx.translate(r + 44, (t + b) / 2);
          ctx.rotate(-Math.PI / 2);
          drawRich(ctx, Y2_TITLE, 0, 8.5, TITLE_SIZE * 0.98, "center");
          ctx.restore();
        }
        ctx.restore();
      },
    };

    const hiddenTicks = { display: false };
    const noGrid = { display: false, drawTicks: false };
    const chart = new Chart(ref.current, {
      type: "scatter",
      data: {
        datasets: [
          { type: "line", data: histData, yAxisID: "yh", stepped: "before", fill: { value: 0 },
            backgroundColor: HIST_COLOR, borderColor: "rgba(0,0,0,0)", borderWidth: 0, pointRadius: 0, order: 10 } as any,
          { type: "line", data: [{ x: p.xMin, y: 0 }, { x: p.xMax, y: 0 }], yAxisID: "y", borderColor: "#000",
            borderWidth: 3, borderDash: [3, 5], pointRadius: 0, fill: false, order: 9 } as any,
          ...p.vlines.map((v) => ({ type: "line", data: [{ x: v, y: -4 }, { x: v, y: 4 }], yAxisID: "y", borderColor: "#000",
            borderWidth: 3, borderDash: [11, 5], pointRadius: 0, fill: false, order: 8 } as any)),
          { type: "scatter", data: p.black.map(([x, y]) => ({ x, y })), yAxisID: "y", backgroundColor: "#000",
            borderWidth: 0, pointRadius: POINT_R, order: 3 } as any,
          { type: "scatter", data: p.green.map(([x, y]) => ({ x, y })), yAxisID: "y", backgroundColor: GREEN,
            borderWidth: 0, pointRadius: POINT_R, order: 2 } as any,
          { type: "scatter", data: p.blue.map(([x, y]) => ({ x, y })), yAxisID: "y2", backgroundColor: BLUE,
            borderWidth: 0, pointRadius: POINT_R, order: 1 } as any,
        ],
      },
      options: {
        animation: false,
        responsive: false,
        devicePixelRatio: 1,
        events: [],
        layout: { padding: { top: MT, left: 0, right: 0, bottom: 0 }, autoPadding: false } as any,
        plugins: { legend: { display: false }, tooltip: { enabled: false } },
        scales: {
          x: { type: "linear", position: "bottom", min: p.xMin, max: p.xMax, offset: false,
            grid: noGrid, border: { display: false }, ticks: hiddenTicks,
            afterBuildTicks: (s: any) => { s.ticks = p.xTicks.map((v) => ({ value: v })); },
            afterFit: (s: any) => { s.height = MB; } },
          y: { type: "linear", position: "left", min: -4, max: 4,
            grid: noGrid, border: { display: false }, ticks: hiddenTicks,
            afterBuildTicks: (s: any) => { s.ticks = yLeftTicks.map((v) => ({ value: v })); },
            afterFit: (s: any) => { s.width = ML; } },
          y2: { type: "linear", position: "right", min: 0, max: 6,
            grid: noGrid, border: { display: false }, ticks: hiddenTicks,
            afterBuildTicks: (s: any) => { s.ticks = yRightTicks.map((v) => ({ value: v })); },
            afterFit: (s: any) => { s.width = MR; } },
          yh: { type: "linear", display: false, min: 0, max: 100 },
        },
      } as any,
      plugins: [overlay],
    });
    return () => chart.destroy();
  }, []);

  return (
    <canvas ref={ref} width={CW} height={CH}
      style={{ position: "absolute", left, top, width: CW, height: CH }} />
  );
}

export default function App() {
  return (
    <div style={{ position: "absolute", left: 0, top: 0, width: 1321, height: 1086, overflow: "hidden", background: "#fff" }}>
      {PANELS.map((p, i) => <PanelChart key={i} p={p} idx={i} />)}
    </div>
  );
}
